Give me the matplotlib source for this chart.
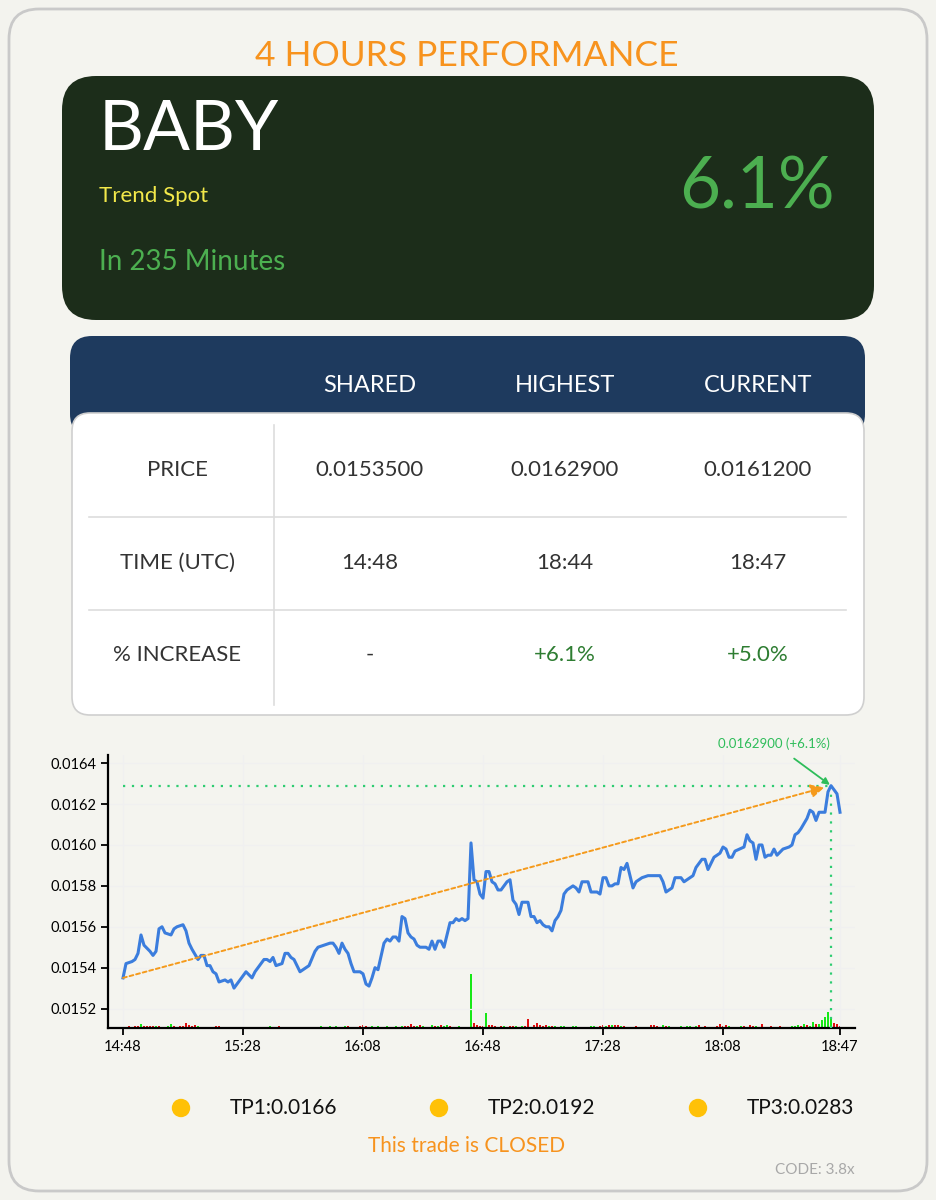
import matplotlib
matplotlib.use('Agg')
import matplotlib.pyplot as plt
from matplotlib.patches import FancyBboxPatch, Circle

plt.rcParams['font.family'] = ['Lato', 'DejaVu Sans']

# ------------------------------------------------
# data
# ------------------------------------------------
symbol = 'BABY'
strategy = 'Trend Spot'
duration_text = 'In 235 Minutes'
gain_text = '6.1%'

col_headers = ['SHARED', 'HIGHEST', 'CURRENT']
row_labels = ['PRICE', 'TIME (UTC)', '% INCREASE']
price_row = ['0.0153500', '0.0162900', '0.0161200']
time_row = ['14:48', '18:44', '18:47']
increase_row = ['-', '+6.1%', '+5.0%']

targets = ['TP1:0.0166', 'TP2:0.0192', 'TP3:0.0283']

# minutes after 14:48 and price
minutes = [0, 1, 3, 4, 5, 6, 7, 9, 10, 11, 12, 13, 14, 16, 17, 18, 20, 21, 22, 23,
           25, 26, 27, 28, 29, 30, 31, 32, 34, 35, 36, 37, 39, 41, 43, 44, 47, 48, 49, 50,
           51, 53, 54, 55, 56, 57, 59, 60, 62, 64, 65, 67, 69, 70, 71, 72, 73, 74, 75, 76,
           77, 79, 80, 81, 82, 83, 84, 85, 87, 88, 89, 90, 91, 92, 93, 94, 95, 96, 97, 98,
           99, 101, 102, 103, 104, 105, 106, 107, 109, 110, 111, 112, 113, 114, 115, 116, 117, 118, 119, 120,
           121, 122, 123, 124, 125, 126, 128, 129, 130, 131, 132, 133, 135, 136, 137, 138, 139, 140, 141, 142,
           143, 144, 145, 146, 147, 148, 150, 151, 152, 153, 155, 156, 158, 159, 160, 161, 162, 163, 164, 165,
           166, 167, 168, 169, 170, 171, 173, 175, 177, 179, 180, 181, 183, 184, 186, 187, 188, 190, 191, 193,
           194, 195, 196, 197, 199, 200, 201, 202, 203, 204, 207, 208, 209, 210, 211, 212, 213, 214, 215, 216,
           217, 218, 220, 222, 223, 224, 225, 226, 228, 229, 230, 231, 232, 234, 235, 236, 237, 238, 239]
prices = [0.01535, 0.01542, 0.01543, 0.01544, 0.01547, 0.01556, 0.01551, 0.01548, 0.01546, 0.01548,
          0.01559, 0.01560, 0.01557, 0.01556, 0.01559, 0.01560, 0.01561, 0.01558, 0.01552, 0.01549,
          0.01544, 0.01546, 0.01546, 0.01541, 0.01541, 0.01538, 0.01537, 0.01533, 0.01534, 0.01533,
          0.01534, 0.01530, 0.01534, 0.01538, 0.01535, 0.01538, 0.01544, 0.01544, 0.01543, 0.01545,
          0.01541, 0.01542, 0.01547, 0.01547, 0.01545, 0.01544, 0.01538, 0.01539, 0.01541, 0.01548,
          0.01550, 0.01551, 0.01552, 0.01552, 0.01550, 0.01547, 0.01552, 0.01549, 0.01547, 0.01542,
          0.01538, 0.01538, 0.01537, 0.01532, 0.01531, 0.01535, 0.01540, 0.01539, 0.01552, 0.01554,
          0.01553, 0.01555, 0.01555, 0.01553, 0.01565, 0.01564, 0.01557, 0.01555, 0.01554, 0.01551,
          0.01550, 0.01550, 0.01549, 0.01553, 0.01549, 0.01553, 0.01553, 0.01550, 0.01562, 0.01562,
          0.01564, 0.01563, 0.01564, 0.01563, 0.01564, 0.01601, 0.01583, 0.01582, 0.01576, 0.01574,
          0.01587, 0.01587, 0.01582, 0.01581, 0.01578, 0.01578, 0.01582, 0.01583, 0.01573, 0.01571,
          0.01566, 0.01572, 0.01572, 0.01565, 0.01565, 0.01562, 0.01563, 0.01561, 0.01560, 0.01560,
          0.01558, 0.01563, 0.01565, 0.01568, 0.01576, 0.01578, 0.01580, 0.01579, 0.01577, 0.01582,
          0.01582, 0.01577, 0.01577, 0.01576, 0.01584, 0.01584, 0.01580, 0.01580, 0.01581, 0.01581,
          0.01589, 0.01588, 0.01591, 0.01585, 0.01579, 0.01582, 0.01584, 0.01585, 0.01585, 0.01585,
          0.01582, 0.01577, 0.01579, 0.01584, 0.01584, 0.01582, 0.01583, 0.01585, 0.01589, 0.01593,
          0.01593, 0.01588, 0.01591, 0.01594, 0.01596, 0.01599, 0.01598, 0.01594, 0.01594, 0.01597,
          0.01599, 0.01605, 0.01602, 0.01601, 0.01593, 0.01600, 0.01600, 0.01594, 0.01595, 0.01595,
          0.01598, 0.01595, 0.01598, 0.01599, 0.01600, 0.01605, 0.01606, 0.01608, 0.01613, 0.01617,
          0.01616, 0.01612, 0.01616, 0.01616, 0.01626, 0.01629, 0.01627, 0.01625, 0.01616]

# volume per minute (0..239) and candle direction (g = up, r = down)
volume = [2, 1, 3, 2, 3, 4, 7, 3, 4, 3, 4, 3, 3, 2, 2, 3, 8, 3, 2, 3,
          4, 9, 6, 4, 5, 3, 2, 2, 2, 1, 2, 4, 4, 2, 2, 1, 2, 1, 2, 2,
          1, 2, 1, 1, 2, 2, 1, 2, 1, 3, 2, 1, 3, 1, 2, 2, 1, 1, 2, 1,
          2, 1, 2, 1, 2, 1, 3, 2, 2, 3, 2, 3, 2, 2, 3, 3, 2, 2, 2, 3,
          6, 3, 2, 3, 2, 3, 2, 2, 3, 1, 2, 4, 2, 3, 4, 3, 8, 4, 3, 5,
          3, 2, 2, 5, 4, 4, 5, 3, 5, 3, 2, 2, 3, 1, 2, 2, 100, 9, 5, 4,
          3, 28, 5, 5, 3, 2, 3, 3, 2, 4, 3, 3, 2, 4, 3, 16, 2, 5, 10, 6,
          3, 5, 4, 3, 3, 2, 3, 3, 2, 2, 3, 4, 2, 2, 2, 2, 3, 4, 2, 3,
          5, 3, 5, 5, 6, 5, 4, 3, 2, 2, 2, 3, 2, 2, 2, 2, 5, 5, 3, 2,
          5, 3, 3, 2, 2, 2, 3, 2, 4, 3, 2, 4, 5, 2, 3, 2, 2, 2, 3, 8,
          4, 6, 3, 2, 2, 2, 3, 3, 2, 5, 3, 3, 2, 8, 2, 2, 3, 2, 2, 3,
          2, 2, 2, 3, 4, 6, 4, 8, 6, 3, 12, 7, 8, 14, 20, 30, 18, 10, 7, 4]
direction = ('rrrgrrgrrrrgrrgggrgr'
             'rrrrrgrgrgrrrgrgrrgr'
             'grgrgrrgrgrrrgrgrgrr'
             'grgrgrggrgggrggrgrgr'
             'rrggrggrgrggrgrrrrgr'
             'grggrgrggrgrgrgrgrrr'
             'rgrrrgrgrrrgrgrrrrrr'
             'rrgrgrgggrggrrgrggrr'
             'rgrgrrgrgrgrrgrgrrrg'
             'grgrgrgrggrgrgrgrgrr'
             'rrgrgrgrgrrgrrrgrrgr'
             'rrggggrgrggrgggggrrr')

xtick_minutes = [0, 40, 80, 120, 160, 200, 239]
xtick_labels = ['14:48', '15:28', '16:08', '16:48', '17:28', '18:08', '18:47']
ytick_values = [0.0152, 0.0154, 0.0156, 0.0158, 0.0160, 0.0162, 0.0164]

shared_price = 0.01535
high_price = 0.01629
high_minute = 236

# ------------------------------------------------
# figure and card background (pixel coordinates)
# ------------------------------------------------
W, H = 936, 1200
fig = plt.figure(figsize=(W / 100, H / 100), dpi=100)
fig.patch.set_facecolor('#f3f3ee')

bg = fig.add_axes([0, 0, 1, 1])
bg.set_xlim(0, W)
bg.set_ylim(H, 0)
bg.axis('off')


def rbox(x, y, w, h, r, fc, ec='none', lw=0):
    p = FancyBboxPatch((x, y), w, h, boxstyle='round,pad=0,rounding_size=%d' % r,
                       facecolor=fc, edgecolor=ec, linewidth=lw)
    bg.add_patch(p)


rbox(9, 9, 918, 1182, 30, '#f4f4ef', '#c9c9c9', 2)

bg.text(467, 56, '4 HOURS PERFORMANCE', color='#f7931e', fontsize=25.5,
        ha='center', va='center')

# dark summary card
rbox(62, 76, 812, 244, 34, '#1c2d1a')
bg.text(99, 130, symbol, color='white', fontsize=50, ha='left', va='center')
bg.text(99, 196, strategy, color='#f2e84a', fontsize=16, ha='left', va='center')
bg.text(99, 262, duration_text, color='#4caf50', fontsize=20, ha='left', va='center')
bg.text(835, 188, gain_text, color='#4caf50', fontsize=51, ha='right', va='center')

# table
rbox(70, 336, 795, 100, 22, '#1e3a5e')
rbox(72, 413, 792, 302, 18, 'white', '#cfcfcf', 1.2)
col_x = [370, 565, 758]
for cx, lab in zip(col_x, col_headers):
    bg.text(cx, 385, lab, color='white', fontsize=17, ha='center', va='center')

row_y = [470, 563, 655]
rows = [price_row, time_row, increase_row]
for ry, lab, vals in zip(row_y, row_labels, rows):
    bg.text(177, ry, lab, color='#333333', fontsize=16, ha='center', va='center')
    for cx, v in zip(col_x, vals):
        c = '#2e7d32' if v.startswith('+') else '#333333'
        bg.text(cx, ry, v, color=c, fontsize=16, ha='center', va='center')

bg.plot([274, 274], [425, 705], color='#dddddd', lw=1.2)
for yy in [517, 610]:
    bg.plot([89, 846], [yy, yy], color='#dddddd', lw=1.2)

# targets and footer
for cx, t in zip([181, 439, 698], targets):
    bg.add_patch(Circle((cx, 1108), 8.5, color='#ffc107'))
    bg.text(cx + 49, 1108, t, color='#111111', fontsize=15, ha='left', va='center')
bg.text(467, 1146, 'This trade is CLOSED', color='#f7931e', fontsize=15,
        ha='center', va='center')
bg.text(855, 1170, 'CODE: 3.8x', color='#a8a8a8', fontsize=11, ha='right', va='center')

# ------------------------------------------------
# price chart
# ------------------------------------------------
ax = fig.add_axes([108 / W, (H - 1028) / H, (855 - 108) / W, (1028 - 755) / H])
ax.set_facecolor('white')
ax.set_xlim(-5, 244)
ax.set_ylim(0.015105, 0.01644)

ax2 = ax.twinx()
bar_colors = ['#17e817' if d == 'g' else '#e01010' for d in direction]
ax2.bar(range(len(volume)), volume, width=0.8, color=bar_colors)
ax2.set_ylim(0, 505)
ax2.axis('off')

ax.set_zorder(ax2.get_zorder() + 1)
ax.patch.set_visible(False)
ax2.patch.set_visible(True)
ax2.patch.set_facecolor('white')

ax.grid(True, color='#f0f0f0', lw=0.9)
ax.set_axisbelow(True)

ax.plot(minutes, prices, color='#3b7ddd', lw=2.2, zorder=4)

# levels
ax.hlines(high_price, 0, high_minute, colors='#2ecc71', linestyles=(0, (1, 3)), lw=1.6, zorder=3)
ax.vlines(high_minute, 0.015105, high_price, colors='#2ecc71', linestyles=(0, (1, 3)), lw=1.6, zorder=3)

ax.annotate('', xy=(high_minute, high_price), xytext=(0, shared_price),
            arrowprops=dict(arrowstyle='-|>', color='#f59a1b', lw=1.4, ls=(0, (2, 1.5)),
                            shrinkA=0, shrinkB=5, mutation_scale=20), zorder=5)

ax.annotate('0.0162900 (+6.1%)', xy=(high_minute, high_price), xytext=(217, 0.016495),
            color='#2ebd5a', fontsize=9.5, ha='center', va='center', annotation_clip=False,
            arrowprops=dict(arrowstyle='-|>', color='#2ebd5a', lw=1.3, shrinkA=7, shrinkB=1,
                            mutation_scale=10))

ax.set_xticks(xtick_minutes)
ax.set_xticklabels(xtick_labels)
ax.set_yticks(ytick_values)
ax.set_yticklabels(['%.4f' % v for v in ytick_values])
ax.tick_params(labelsize=10.5, length=5, width=1.3, colors='black')

for s in ['top', 'right']:
    ax.spines[s].set_visible(False)
for s in ['left', 'bottom']:
    ax.spines[s].set_linewidth(1.6)

plt.savefig('out.png', dpi=100, facecolor=fig.get_facecolor())
